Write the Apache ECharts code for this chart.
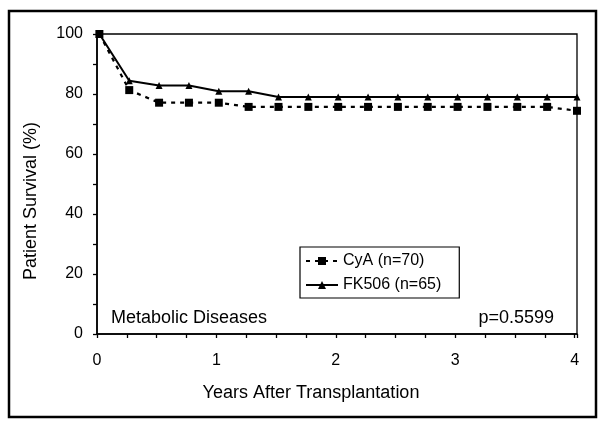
<!DOCTYPE html>
<html>
<head>
<meta charset="utf-8">
<script src="https://cdn.jsdelivr.net/npm/echarts@6/dist/echarts.min.js"></script>
<style>
html,body{margin:0;padding:0;background:#fff;}
#chart{width:609px;height:431px;}
</style>
</head>
<body>
<div id="chart"></div>
<script>
// Data
var years = [0.02, 0.27, 0.52, 0.77, 1.02, 1.27, 1.52, 1.77, 2.02, 2.27, 2.52, 2.77, 3.02, 3.27, 3.52, 3.77, 4.02];
var cyaSurvival = [100, 81.3, 77.1, 77.1, 77.1, 75.7, 75.7, 75.7, 75.7, 75.7, 75.7, 75.7, 75.7, 75.7, 75.7, 75.7, 74.4];
var fk506Survival = [100, 84.4, 82.8, 82.8, 80.9, 80.9, 79.0, 79.0, 79.0, 79.0, 79.0, 79.0, 79.0, 79.0, 79.0, 79.0, 79.0];
var seriesNames = ['CyA (n=70)', 'FK506 (n=65)'];
var xTitle = 'Years After Transplantation';
var yTitle = 'Patient Survival (%)';
var panelLabel = 'Metabolic Diseases';
var pLabel = 'p=0.5599';

function pairs(xs, ys){ return xs.map(function(x,i){ return [x, ys[i]]; }); }

var FONT = '"Liberation Sans", Arial, sans-serif';
var chart = echarts.init(document.getElementById('chart'), null, {renderer:'canvas'});
chart.setOption({
  backgroundColor: '#ffffff',
  animation: false,
  textStyle: {fontFamily: FONT, color: '#000'},
  grid: {left: 97, right: 32, top: 34, bottom: 97, show: true, borderColor: '#000', borderWidth: 1.3, backgroundColor: 'transparent'},
  xAxis: {
    type: 'value', min: 0, max: 4.02, interval: 0.25,
    name: xTitle, nameLocation: 'middle', nameGap: 50,
    nameTextStyle: {fontFamily: FONT, fontSize: 18, color: '#000', padding: [0, 52, 0, 0]},
    axisLine: {lineStyle: {color: '#000', width: 1.6}},
    axisTick: {show: true, length: 4, lineStyle: {color: '#000', width: 1.3}},
    axisLabel: {margin: 19, fontFamily: FONT, fontSize: 16, color: '#000',
      formatter: function(v){ return (Math.abs(v - Math.round(v)) < 1e-6 && v <= 4) ? String(Math.round(v)) : ''; }},
    splitLine: {show: false}
  },
  yAxis: {
    type: 'value', min: 0, max: 100, interval: 10,
    name: yTitle, nameLocation: 'middle', nameGap: 57, nameRotate: 90,
    nameTextStyle: {fontFamily: FONT, fontSize: 18, color: '#000', padding: [0,0,0,-34]},
    axisLine: {lineStyle: {color: '#000', width: 1.6}},
    axisTick: {show: true, length: 4, lineStyle: {color: '#000', width: 1.3}},
    axisLabel: {margin: 14, fontFamily: FONT, fontSize: 16, color: '#000',
      formatter: function(v){ return (v % 20 === 0) ? String(v) : ''; }},
    splitLine: {show: false}
  },
  legend: {
    orient: 'vertical', left: 300, top: 247,
    borderColor: '#000', borderWidth: 1.2, padding: [6, 18, 5, 5],
    itemWidth: 32, itemHeight: 10, itemGap: 8,
    textStyle: {fontFamily: FONT, fontSize: 16, color: '#000'},
    data: seriesNames
  },
  series: [
    {
      name: seriesNames[0], type: 'line', data: pairs(years, cyaSurvival),
      symbol: 'rect', symbolSize: 8,
      lineStyle: {color: '#000', width: 2.2, type: [4, 5]},
      itemStyle: {color: '#000'}
    },
    {
      name: seriesNames[1], type: 'line', data: pairs(years, fk506Survival),
      symbol: 'triangle', symbolSize: 7,
      lineStyle: {color: '#000', width: 2, type: 'solid'},
      itemStyle: {color: '#000'}
    }
  ],
  graphic: [
    {type: 'rect', shape: {x: 9, y: 11, width: 587, height: 406}, style: {fill: 'none', stroke: '#000', lineWidth: 2.5}, silent: true},
    {type: 'text', left: 111, top: 309, style: {text: panelLabel, font: '18px ' + FONT, fill: '#000'}},
    {type: 'text', right: 55, top: 309, style: {text: pLabel, font: '18px ' + FONT, fill: '#000'}}
  ]
});
</script>
</body>
</html>
